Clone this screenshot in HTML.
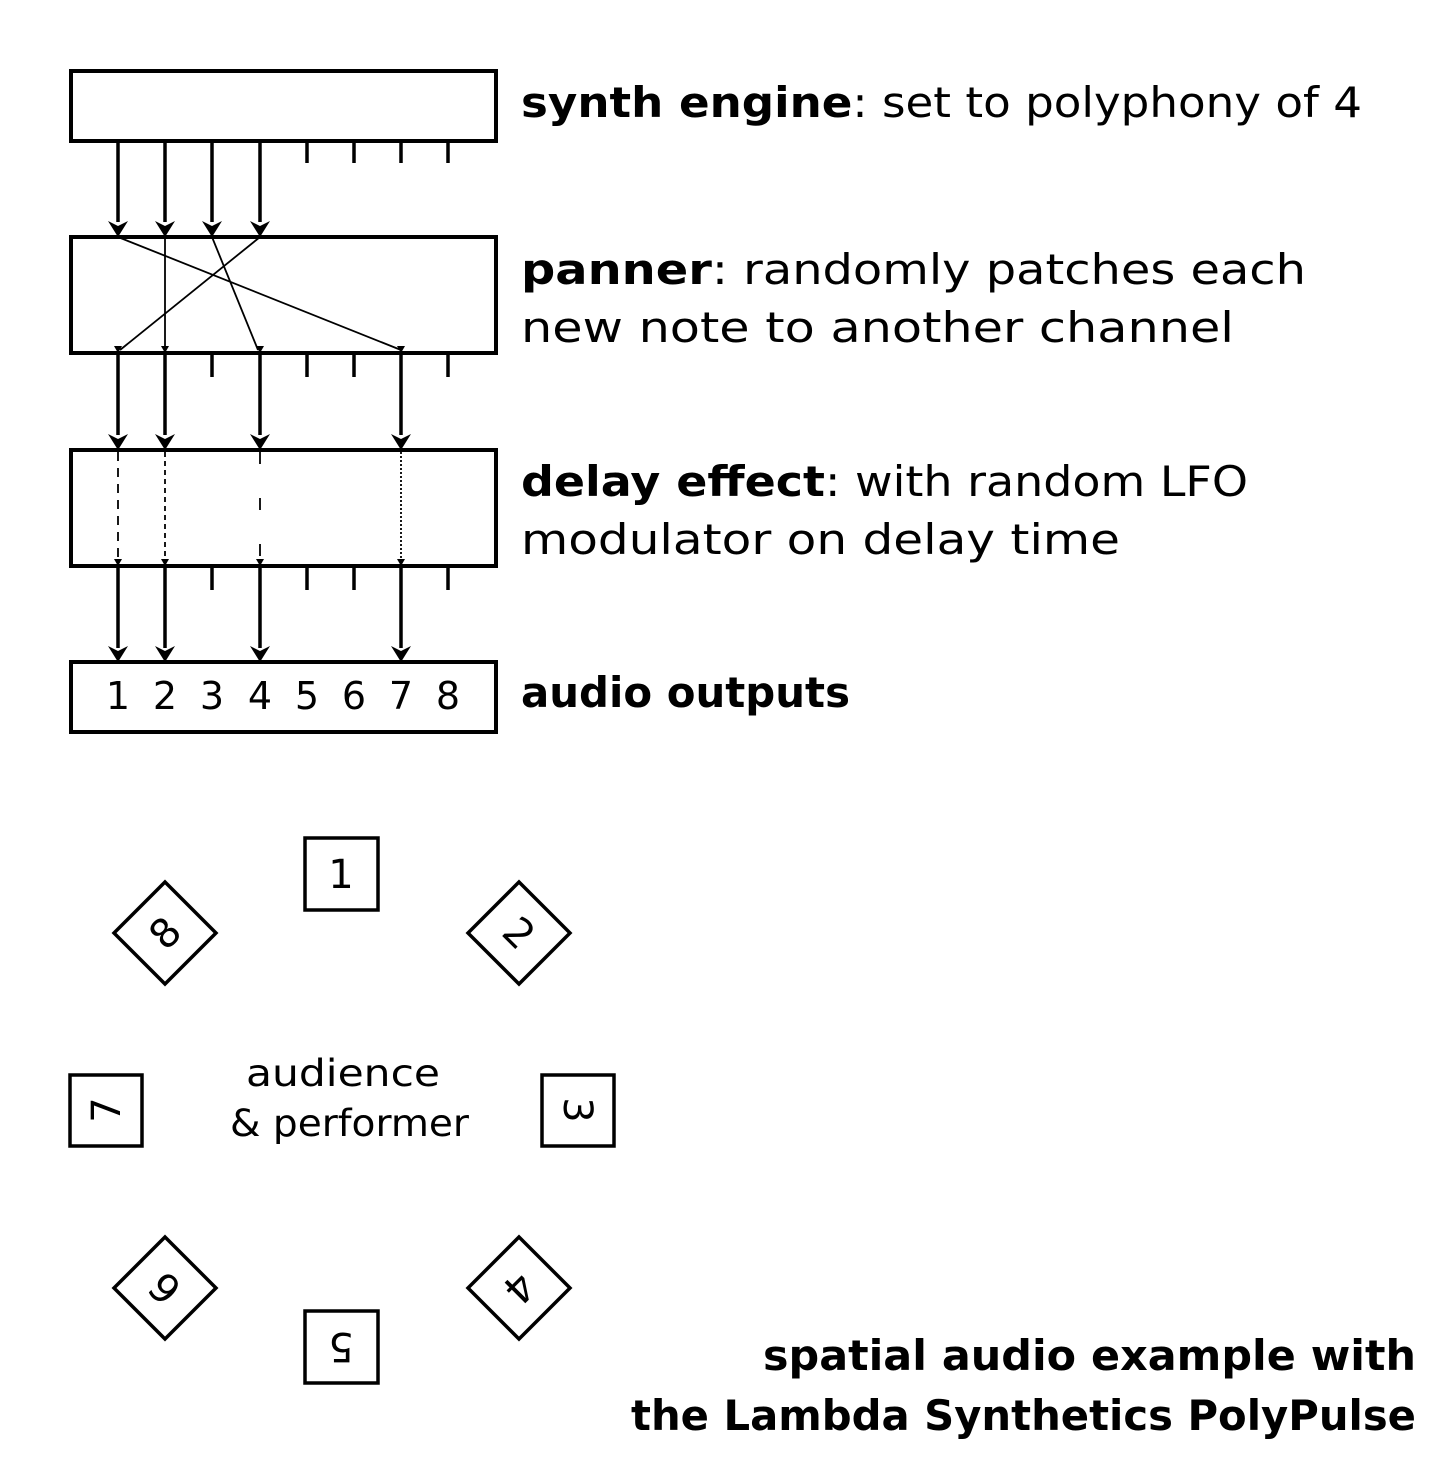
<!DOCTYPE html>
<html><head><style>
body{margin:0;background:#fff;}
svg text{font-family:"DejaVu Sans","Liberation Sans",sans-serif;fill:#000;}
</style></head><body>
<svg width="1442" height="1466" viewBox="0 0 1442 1466" xmlns="http://www.w3.org/2000/svg">
<g fill="none" stroke="#000" stroke-width="4">
<rect x="71" y="71" width="425" height="70"/>
<rect x="71" y="237" width="425" height="116"/>
<rect x="71" y="450" width="425" height="116"/>
<rect x="71" y="662" width="425" height="70"/>
</g>
<g stroke="#000" stroke-width="3.5">
<line x1="307" y1="143" x2="307" y2="163"/><line x1="354" y1="143" x2="354" y2="163"/><line x1="401" y1="143" x2="401" y2="163"/><line x1="448" y1="143" x2="448" y2="163"/>
<line x1="212" y1="355" x2="212" y2="377"/><line x1="307" y1="355" x2="307" y2="377"/><line x1="354" y1="355" x2="354" y2="377"/><line x1="448" y1="355" x2="448" y2="377"/>
<line x1="212" y1="568" x2="212" y2="590"/><line x1="307" y1="568" x2="307" y2="590"/><line x1="354" y1="568" x2="354" y2="590"/><line x1="448" y1="568" x2="448" y2="590"/>
<line x1="118" y1="143" x2="118" y2="222"/><line x1="165" y1="143" x2="165" y2="222"/><line x1="212" y1="143" x2="212" y2="222"/><line x1="260" y1="143" x2="260" y2="222"/>
<line x1="118" y1="355" x2="118" y2="435"/><line x1="165" y1="355" x2="165" y2="435"/><line x1="260" y1="355" x2="260" y2="435"/><line x1="401" y1="355" x2="401" y2="435"/>
<line x1="118" y1="568" x2="118" y2="648"/><line x1="165" y1="568" x2="165" y2="648"/><line x1="260" y1="568" x2="260" y2="648"/><line x1="401" y1="568" x2="401" y2="648"/>
</g>
<g fill="#000">
<path d="M108,221 L118,237 L128,221 L118,226Z"/><path d="M155,221 L165,237 L175,221 L165,226Z"/><path d="M202,221 L212,237 L222,221 L212,226Z"/><path d="M250,221 L260,237 L270,221 L260,226Z"/>
<path d="M108,434 L118,450 L128,434 L118,439Z"/><path d="M155,434 L165,450 L175,434 L165,439Z"/><path d="M250,434 L260,450 L270,434 L260,439Z"/><path d="M391,434 L401,450 L411,434 L401,439Z"/>
<path d="M108,646 L118,662 L128,646 L118,651Z"/><path d="M155,646 L165,662 L175,646 L165,651Z"/><path d="M250,646 L260,662 L270,646 L260,651Z"/><path d="M391,646 L401,662 L411,646 L401,651Z"/>
<path d="M114,346 L118,353 L122,346Z"/><path d="M161,346 L165,353 L169,346Z"/><path d="M256,346 L260,353 L264,346Z"/><path d="M397,346 L401,353 L405,346Z"/>
<path d="M114,559 L118,566 L122,559Z"/><path d="M161,559 L165,566 L169,559Z"/><path d="M256,559 L260,566 L264,559Z"/><path d="M397,559 L401,566 L405,559Z"/>
</g>
<g stroke="#000" stroke-width="1.8">
<line x1="118" y1="237" x2="401" y2="350"/><line x1="165" y1="237" x2="165" y2="350"/><line x1="212" y1="237" x2="258" y2="350"/><line x1="260" y1="237" x2="120" y2="350"/>
<line x1="118" y1="452" x2="118" y2="562" stroke-dasharray="9,7"/>
<line x1="165" y1="452" x2="165" y2="562" stroke-dasharray="5,4"/>
<line x1="260" y1="452" x2="260" y2="562" stroke-dasharray="12,34"/>
<line x1="401" y1="452" x2="401" y2="562" stroke-dasharray="2,2"/>
</g>
<g font-size="38">
<text x="118" y="709" text-anchor="middle">1</text><text x="165" y="709" text-anchor="middle">2</text><text x="212" y="709" text-anchor="middle">3</text><text x="260" y="709" text-anchor="middle">4</text><text x="307" y="709" text-anchor="middle">5</text><text x="354" y="709" text-anchor="middle">6</text><text x="401" y="709" text-anchor="middle">7</text><text x="448" y="709" text-anchor="middle">8</text>
</g>
<g font-size="42">
<text x="521" y="117" textLength="841" lengthAdjust="spacingAndGlyphs"><tspan font-weight="bold">synth engine</tspan>: set to polyphony of 4</text>
<text x="521" y="284" textLength="785" lengthAdjust="spacingAndGlyphs"><tspan font-weight="bold">panner</tspan>: randomly patches each</text>
<text x="521" y="342" textLength="713" lengthAdjust="spacingAndGlyphs">new note to another channel</text>
<text x="521" y="496" textLength="727" lengthAdjust="spacingAndGlyphs"><tspan font-weight="bold">delay effect</tspan>: with random LFO</text>
<text x="521" y="554" textLength="599" lengthAdjust="spacingAndGlyphs">modulator on delay time</text>
<text x="521" y="707" font-weight="bold" textLength="329" lengthAdjust="spacingAndGlyphs">audio outputs</text>
<text x="763" y="1370" font-weight="bold" textLength="653" lengthAdjust="spacingAndGlyphs">spatial audio example with</text>
<text x="631" y="1430" font-weight="bold" textLength="785" lengthAdjust="spacingAndGlyphs">the Lambda Synthetics PolyPulse</text>
</g>
<g font-size="37">
<text x="246" y="1086" textLength="194" lengthAdjust="spacingAndGlyphs">audience</text>
<text x="230" y="1136" textLength="239" lengthAdjust="spacingAndGlyphs">&amp; performer</text>
</g>
<g fill="none" stroke="#000" stroke-width="3.5">
<rect x="305" y="838" width="73" height="72"/>
<rect x="542" y="1075" width="72" height="71"/>
<rect x="305" y="1311" width="73" height="72"/>
<rect x="70" y="1075" width="72" height="71"/>
<path d="M519,882 L570,933 L519,984 L468,933Z"/>
<path d="M519,1237 L570,1288 L519,1339 L468,1288Z"/>
<path d="M165,1237 L216,1288 L165,1339 L114,1288Z"/>
<path d="M165,882 L216,933 L165,984 L114,933Z"/>
</g>
<g font-size="40" text-anchor="middle">
<text x="341" y="888">1</text>
<text transform="translate(519,933) rotate(45)" y="14">2</text>
<text transform="translate(578,1110) rotate(90)" y="14">3</text>
<text transform="translate(519,1288) rotate(135)" y="14">4</text>
<text transform="translate(341,1347) rotate(180)" y="14">5</text>
<text transform="translate(165,1288) rotate(225)" y="14">6</text>
<text transform="translate(106,1110) rotate(270)" y="14">7</text>
<text transform="translate(165,933) rotate(315)" y="14">8</text>
</g>
</svg>
</body></html>
